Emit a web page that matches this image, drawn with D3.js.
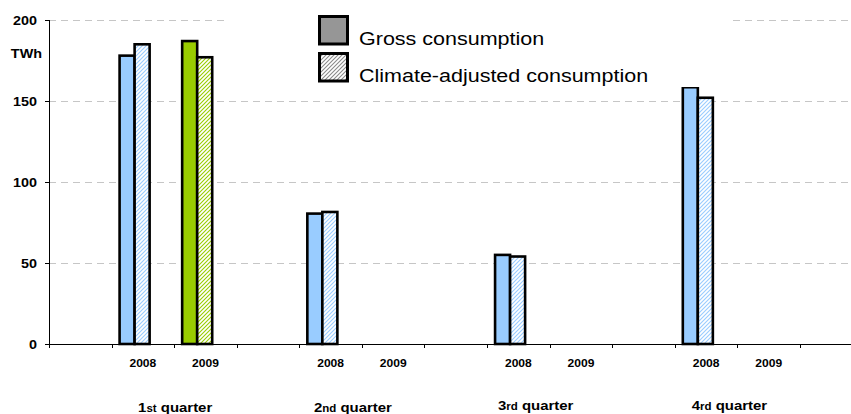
<!DOCTYPE html>
<html>
<head>
<meta charset="utf-8">
<script src="https://cdn.jsdelivr.net/npm/d3@7"></script>
<style>
  html, body { margin: 0; padding: 0; background: #fff; }
  svg { display: block; font-family: "Liberation Sans", Arial, sans-serif; }
</style>
</head>
<body>
<svg id="chart" width="851" height="414"></svg>
<script>
// Quarterly electricity consumption, TWh
const quarterNumbers = ["1", "2", "3", "4"];
const quarterSuffixes = ["st", "nd", "rd", "rd"];
const years = ["2008", "2009"];
const seriesNames = ["Gross consumption", "Climate-adjusted consumption"];
const gross2008 = [178, 80.5, 55, 158.5];
const adjusted2008 = [185, 81.5, 54, 152];
const gross2009 = [187, null, null, null];
const adjusted2009 = [177, null, null, null];
const yTicks = [0, 50, 100, 150, 200];
const unitLabel = "TWh";

const yearColors = { "2008": "#99CCFF", "2009": "#99CC00" };
const textStretch = 1.15;

const svg = d3.select("#chart");
const margin = { left: 49, top: 20, bottom: 344 };

// One empty slot before each quarter, plus a trailing one
const slots = [];
quarterNumbers.forEach((q, i) => {
  slots.push("gap" + i);
  years.forEach(yr => slots.push(q + "-" + yr));
});
slots.push("gap-end");

const bandStep = 62.58;
const x = d3.scaleBand().domain(slots)
  .range([margin.left, margin.left + bandStep * slots.length])
  .paddingInner(0).paddingOuter(0);
const bw = x.bandwidth();
const x1 = d3.scaleBand().domain(["gross", "adjusted"])
  .range([bw * 0.128, bw * 0.128 + 2 * bw * 0.24]);

const y = d3.scaleLinear().domain([0, 200]).range([margin.bottom, margin.top]);

// Hatch patterns
const defs = svg.append("defs");
function hatch(id, color) {
  const p = defs.append("pattern").attr("id", id)
    .attr("patternUnits", "userSpaceOnUse").attr("width", 4).attr("height", 4);
  p.append("rect").attr("width", 4).attr("height", 4).attr("fill", "#fff");
  p.append("path").attr("d", "M-1,1 l2,-2 M0,4 l4,-4 M3,5 l2,-2")
    .attr("stroke", color).attr("stroke-width", 1.1);
}
hatch("hatch2008", yearColors["2008"]);
hatch("hatch2009", yearColors["2009"]);
hatch("hatchLegend", "#8a8a8a");

// Gridlines
svg.append("g").selectAll("line")
  .data(yTicks.filter(d => d > 0))
  .join("line")
  .attr("x1", margin.left).attr("x2", 851)
  .attr("y1", d => y(d) + 0.5).attr("y2", d => y(d) + 0.5)
  .attr("stroke", "#c6c6c6").attr("stroke-width", 1)
  .attr("stroke-dasharray", "7,5");

// Bars
const barData = [];
quarterNumbers.forEach((q, i) => {
  [["2008", gross2008[i], adjusted2008[i]], ["2009", gross2009[i], adjusted2009[i]]]
    .forEach(([yr, g, a]) => {
      if (g != null) barData.push({ slot: q + "-" + yr, year: yr, kind: "gross", value: g });
      if (a != null) barData.push({ slot: q + "-" + yr, year: yr, kind: "adjusted", value: a });
    });
});

svg.append("g").selectAll("rect")
  .data(barData)
  .join("rect")
  .attr("x", d => x(d.slot) + x1(d.kind))
  .attr("width", x1.bandwidth())
  .attr("y", d => y(d.value))
  .attr("height", d => y(0) - y(d.value))
  .attr("fill", d => d.kind === "gross" ? yearColors[d.year] : `url(#hatch${d.year})`)
  .attr("stroke", "#000").attr("stroke-width", 2.6);

// Axes
const yAxis = svg.append("g").attr("transform", `translate(${margin.left},0)`)
  .call(d3.axisLeft(y).tickValues(yTicks).tickSize(4).tickPadding(0).tickFormat(d3.format("d")));
yAxis.select(".domain").attr("d", `M0.5,${y(200)}V${y(0)}`).attr("stroke", "#000");
yAxis.selectAll(".tick line").attr("stroke", "#000");
yAxis.selectAll(".tick text")
  .attr("x", null).attr("dy", null)
  .attr("transform", `translate(-12,4.5) scale(${textStretch},1)`)
  .attr("font-size", "12.5px").attr("font-weight", "bold").attr("fill", "#000")
  .attr("text-anchor", "end");

svg.append("text")
  .attr("transform", `translate(42,58) scale(${textStretch},1)`)
  .attr("text-anchor", "end")
  .attr("font-size", "12.5px").attr("font-weight", "bold")
  .text(unitLabel);

const xAxisG = svg.append("g");
xAxisG.append("line")
  .attr("x1", margin.left).attr("x2", 851)
  .attr("y1", y(0) + 0.5).attr("y2", y(0) + 0.5)
  .attr("stroke", "#000");
xAxisG.selectAll("line.tk")
  .data(d3.range(slots.length + 1))
  .join("line").attr("class", "tk")
  .attr("x1", i => Math.round(margin.left + i * bw) + 0.5)
  .attr("x2", i => Math.round(margin.left + i * bw) + 0.5)
  .attr("y1", y(0)).attr("y2", y(0) + 4)
  .attr("stroke", "#000");

// Year labels
const yearSlots = slots.filter(s => !s.startsWith("gap"));
xAxisG.selectAll("text.yr")
  .data(yearSlots)
  .join("text").attr("class", "yr")
  .attr("transform", s => `translate(${x(s) + bw / 2},367) scale(${textStretch},1)`)
  .attr("text-anchor", "middle")
  .attr("font-size", "10.5px").attr("font-weight", "bold")
  .text(s => s.split("-")[1]);

// Quarter labels
const quarterNudge = [{ dx: 1, y: 412 }, { dx: -9, y: 412 }, { dx: -14, y: 410 }, { dx: -8, y: 410 }];
quarterNumbers.forEach((q, i) => {
  const cx = x(q + "-2008") + bw + quarterNudge[i].dx;
  const t = svg.append("text")
    .attr("transform", `translate(${cx},${quarterNudge[i].y}) scale(${textStretch},1)`)
    .attr("text-anchor", "middle")
    .attr("font-weight", "bold").attr("font-size", "13px");
  t.append("tspan").text(q);
  t.append("tspan").attr("font-size", "10px").text(quarterSuffixes[i]);
  t.append("tspan").text(" quarter");
});

// Legend
const legend = svg.append("g");
legend.append("rect").attr("x", 227).attr("y", 4).attr("width", 505).attr("height", 83)
  .attr("fill", "#fff");
const legendFills = ["#969696", "url(#hatchLegend)"];
const legendRows = legend.selectAll("g.row")
  .data(seriesNames)
  .join("g").attr("class", "row")
  .attr("transform", (d, i) => `translate(0,${i * 37})`);
legendRows.append("rect")
  .attr("x", 319.5).attr("y", 16.5).attr("width", 28).attr("height", 27.5)
  .attr("fill", (d, i) => legendFills[i])
  .attr("stroke", "#000").attr("stroke-width", 3);
legendRows.append("text")
  .attr("transform", `translate(359,45) scale(${textStretch},1)`)
  .attr("font-size", "18.7px")
  .text(d => d);
</script>
</body>
</html>
